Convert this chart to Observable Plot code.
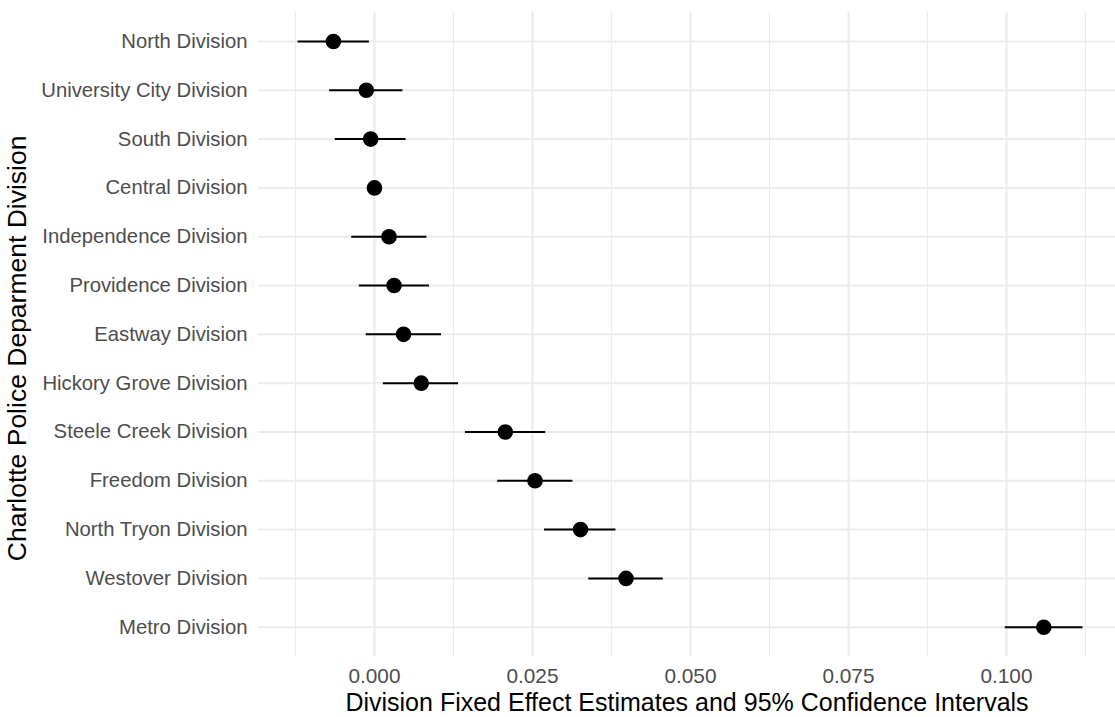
<!DOCTYPE html>
<html>
<head>
<meta charset="utf-8">
<script src="https://cdn.jsdelivr.net/npm/d3@7"></script>
<script src="https://cdn.jsdelivr.net/npm/@observablehq/plot@0.6"></script>
<style>
  html, body { margin: 0; padding: 0; background: #fff; }
  #chart svg { display: block; }
</style>
</head>
<body>
<div id="chart"></div>
<script>
const divisions = [
  "North Division", "University City Division", "South Division", "Central Division",
  "Independence Division", "Providence Division", "Eastway Division", "Hickory Grove Division",
  "Steele Creek Division", "Freedom Division", "North Tryon Division", "Westover Division",
  "Metro Division"
];
const estimates = [-0.0065, -0.0013, -0.0006, 0.0000, 0.0023, 0.0031, 0.0046, 0.0074, 0.0207, 0.0254, 0.0326, 0.0398, 0.1059];
const lower =     [-0.0121, -0.0071, -0.0062, 0.0000, -0.0036, -0.0024, -0.0013, 0.0014, 0.0144, 0.0195, 0.0269, 0.0339, 0.0998];
const upper =     [-0.0008, 0.0045, 0.0050, 0.0000, 0.0083, 0.0087, 0.0106, 0.0133, 0.0271, 0.0314, 0.0382, 0.0457, 0.1121];
const majorTicks = [0, 0.025, 0.05, 0.075, 0.1];
const minorTicks = [-0.0125, 0.0125, 0.0375, 0.0625, 0.0875, 0.1125];

const data = divisions.map((d, i) => ({division: d, est: estimates[i], lo: lower[i], hi: upper[i]}));
const font = "'Liberation Sans', Arial, Helvetica, sans-serif";

const chart = Plot.plot({
  width: 1115,
  height: 717,
  marginLeft: 258,
  marginRight: 0,
  marginTop: 11.7,
  marginBottom: 61,
  style: {fontFamily: font, background: "#fff"},
  x: {domain: [-0.01835, 0.11725]},
  y: {domain: divisions, padding: 0.6, round: false},
  marks: [
    Plot.ruleX(minorTicks, {stroke: "#ebebeb", strokeWidth: 1.1}),
    Plot.ruleX(majorTicks, {stroke: "#ebebeb", strokeWidth: 2}),
    Plot.ruleY(divisions, {stroke: "#ebebeb", strokeWidth: 2}),
    Plot.axisX({ticks: majorTicks, tickFormat: d3.format(".3f"), tickSize: 0, tickPadding: 12, fontSize: 20.8, fill: "#4d4d4d", label: null}),
    Plot.axisY({tickSize: 0, tickPadding: 11, fontSize: 20.3, fill: "#4d4d4d", label: null}),
    Plot.ruleY(data, {y: "division", x1: "lo", x2: "hi", stroke: "#000", strokeWidth: 2}),
    Plot.dot(data, {x: "est", y: "division", r: 7.8, fill: "#000", stroke: "none"}),
    Plot.text(["Division Fixed Effect Estimates and 95% Confidence Intervals"], {
      frameAnchor: "bottom", dy: 46, fontSize: 25, fill: "#000", textAnchor: "middle", lineAnchor: "middle"
    }),
    Plot.text(["Charlotte Police Deparment Division"], {
      frameAnchor: "left", dx: -241, dy: 14, rotate: -90, fontSize: 26.5, fill: "#000", textAnchor: "middle", lineAnchor: "middle"
    })
  ]
});
document.getElementById("chart").appendChild(chart);
</script>
</body>
</html>
